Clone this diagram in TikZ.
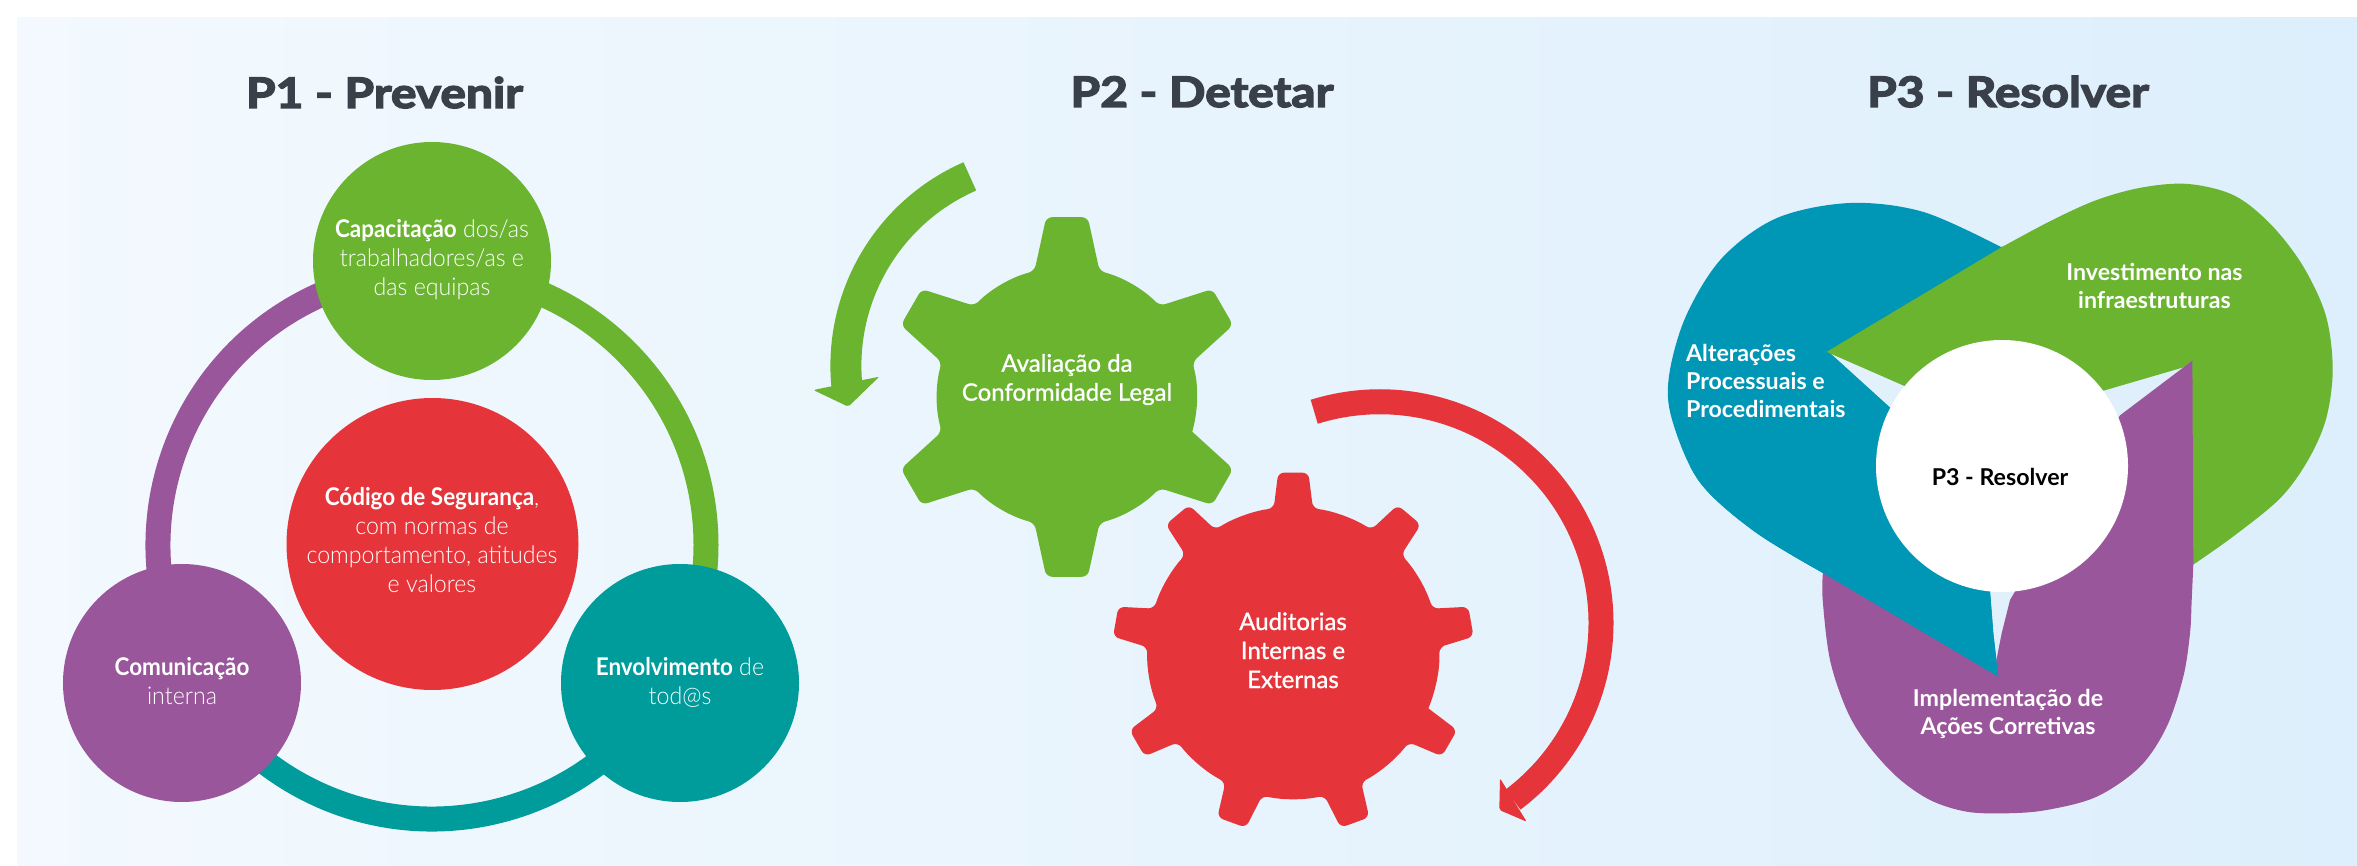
\documentclass[tikz,border=0pt]{standalone}
\usepackage{fontspec}
\setmainfont{Lato}
\newfontfamily\titlefont{Lato}[FakeStretch=1.14,BoldFeatures={FakeBold=3.5}]
\newfontfamily\onefont{Lato Light}[FakeStretch=0.95,BoldFont={Lato Bold},BoldFeatures={FakeStretch=0.92}]
\newfontfamily\gearfont{Lato}[FakeBold=1]
\usetikzlibrary{calc}
\definecolor{bgL}{HTML}{F3F9FE}
\definecolor{bgR}{HTML}{DDEFFC}
\definecolor{ttlgray}{HTML}{3A4049}
\definecolor{cgreen}{HTML}{6AB42F}
\definecolor{cred}{HTML}{E6353A}
\definecolor{cpurple}{HTML}{9A569B}
\definecolor{cteal}{HTML}{009B9B}
\definecolor{cblue}{HTML}{0097B6}
\newcommand{\ctext}[1]{\begin{tabular}[t]{@{}c@{}}#1\end{tabular}}
\newcommand{\ltext}[1]{\begin{tabular}[t]{@{}l@{}}#1\end{tabular}}
\begin{document}
\begin{tikzpicture}[x=0.5pt,y=-0.5pt,
  ttl/.style={font=\titlefont\bfseries\fontsize{21}{25}\selectfont, text=ttlgray, inner sep=0pt, anchor=base},
  disc/.style={circle, inner sep=0pt, minimum size=119pt},
  onetxt/.style={font=\onefont\fontsize{12.2}{14.5}\selectfont, text=white, inner sep=0pt, anchor=base},
  geartxt/.style={font=\gearfont\fontsize{12}{14.5}\selectfont, text=white, inner sep=0pt, anchor=base},
  threetxt/.style={font=\bfseries\fontsize{11.6}{14}\selectfont, text=white, inner sep=0pt, anchor=base},
  ring/.style={line width=12.5pt}
  ]
\fill[white] (0,0) rectangle (2357,866);
\shade[left color=bgL, right color=bgR] (17,18) rectangle (2357,866);
\useasboundingbox (0,0) rectangle (2357,866);

% titles
\node[ttl] (t1) at (384.5,108) {P1 - Prevenir};
\node[ttl] (t2) at (1202,107) {P2 - Detetar};
\node[ttl] (t3) at (2008,107) {P3 - Resolver};

% ---------- P1 ----------
\coordinate (R) at (432,545);
\draw[ring, cpurple] (R) ++(150:274) arc[start angle=150, end angle=270, radius=274];
\draw[ring, cteal] (R) ++(30:274) arc[start angle=30, end angle=150, radius=274];
\draw[ring, cgreen] (R) ++(-90:274) arc[start angle=-90, end angle=30, radius=274];
\node[disc, fill=cgreen] (cap) at (432,261) {};
\node[disc, fill=cpurple] (com) at (182,683) {};
\node[disc, fill=cteal] (env) at (680,683) {};
\node[circle, inner sep=0pt, minimum size=146pt, fill=cred] (cod) at (432.5,544) {};
\node[onetxt] (capt) at (432,237.5) {\ctext{\textbf{Capacitação} dos/as\\trabalhadores/as e\\das equipas}};
\node[onetxt] (codt) at (432,505.4) {\ctext{\textbf{Código de Segurança},\\com normas de\\comportamento, atitudes\\e valores}};
\node[onetxt] (comt) at (182,675) {\ctext{\textbf{Comunicação}\\interna}};
\node[onetxt] (envt) at (680,675) {\ctext{\textbf{Envolvimento} de\\tod@s}};

% ---------- P2 ----------
% green arrow
\draw[cgreen, line width=15.5pt] ([shift={(246.4:206.7)}]1052.6,365.8) arc[start angle=246.4, end angle=174, radius=206.7];
\fill[cgreen, rounded corners=1pt] (813.3,390) -- (848.3,406.7) -- (879.3,376.7) -- cycle;
% red arrow
\draw[cred, line width=12.5pt] ([shift={(252.75:221.2)}]1379.8,623) arc[start angle=252.75, end angle=413, radius=221.2];
\fill[cred, rounded corners=1pt] (1500,778.3) -- (1499.3,810) -- (1526.7,821.7) -- cycle;
% green gear
\begin{scope}[shift={(1067,397)}]
\fill[cgreen, rounded corners=3pt] (15.5:130)
  \foreach \a in {30,90,...,330}{
    -- (\a-6.6:181) -- (\a+6.6:181) -- (\a+14.5:130)
    arc[start angle=\a+14.5, end angle=\a+45.5, radius=130]
  };
\end{scope}
% red gear
\begin{scope}[shift={(1293.3,653)}]
\fill[cred, rounded corners=3pt] (22.3:146)
  \foreach \a in {30,70,...,350}{
    -- (\a-4.8:181) -- (\a+4.8:181) -- (\a+7.7:146)
    arc[start angle=\a+7.7, end angle=\a+32.3, radius=146]
  };
\end{scope}
\node[geartxt] (avt) at (1067,371.7) {\ctext{Avaliação da\\Conformidade Legal}};
\node[geartxt] (aut) at (1293,630) {\ctext{Auditorias\\Internas e\\Externas}};

% ---------- P3 ----------
\begin{scope}[shift={(2002,466)}]
\fill[cblue] (-3.7,210.7) -- (-179,107) -- plot[smooth,tension=0.55] coordinates {(-179,107) (-247.7,65.4) (-302.6,15.7) (-330,-46.5) (-333,-90) (-316,-150) (-280,-208) (-225,-248) (-152,-263) (-78.5,-254) (-1,-219)} -- (20,-224) -- (-172,-113) -- (-111.4,-58) -- (-50,20) -- (-12,125.5) -- (-11.3,134) -- (-8.7,167.3) -- cycle;
\fill[cgreen] (-175.4,-114.1) -- (-0.8,-218.6) -- plot[smooth,tension=0.55] coordinates {(-0.8,-218.6) (49.5,-245.5) (95.2,-266.2) (141,-278.7) (186.7,-282) (232.4,-270.4) (269,-241.4) (301,-199.9) (323.9,-150.2) (330.7,-96.3) (323.9,-46.5) (305.6,-5.1) (278.1,32.3) (232.4,69.6) (191.3,98.6)} -- (184,100) -- (186,-100) -- (102.1,-75.5) -- (0,-60) -- (-96.8,-79.7) -- cycle;
\fill[cpurple] (190.4,-105.4) -- (191.3,98.6) -- plot[smooth,tension=0.55] coordinates {(191.3,98.6) (189.7,134) (188,167.3) (181.3,210.7) (164.7,260.7) (138,300.7) (94.7,330.7) (44.7,344) (4.7,347.3) (-35.3,345.7) (-72,334) (-105.3,310.7) (-135.3,277.3) (-155.3,244) (-172,194) (-179.3,134) (-179.1,106.9)} -- (-178,100) -- (-8,206) -- (-0.3,167.3) -- (8,134) -- (13,125.5) -- (60,30) -- (118.1,-50.7) -- cycle;
\begin{scope}
\clip (-400,0) rectangle (40,300);
\fill[cblue] (-3.7,210.7) -- (-179,107) -- plot[smooth,tension=0.55] coordinates {(-179,107) (-247.7,65.4) (-302.6,15.7) (-330,-46.5) (-333,-90) (-316,-150) (-280,-208) (-225,-248) (-152,-263) (-78.5,-254) (-1,-219)} -- (20,-224) -- (-172,-113) -- (-111.4,-58) -- (-50,20) -- (-12,125.5) -- (-11.3,134) -- (-8.7,167.3) -- cycle;
\end{scope}
\node[circle, fill=white, inner sep=0pt, minimum size=126pt] (core) at (0,0) {};
\node[threetxt, text=black] (coret) at (-2,19.8) {P3 - Resolver};
\end{scope}
\node[threetxt] (invt) at (2154.4,280.6) {\ctext{Investimento nas\\infraestruturas}};
\node[threetxt, anchor=base west] (altt) at (1685.7,361.4) {\ltext{Alterações\\Processuais e\\Procedimentais}};
\node[threetxt] (impt) at (2008,706) {\ctext{Implementação de\\Ações Corretivas}};
\end{tikzpicture}
\end{document}
